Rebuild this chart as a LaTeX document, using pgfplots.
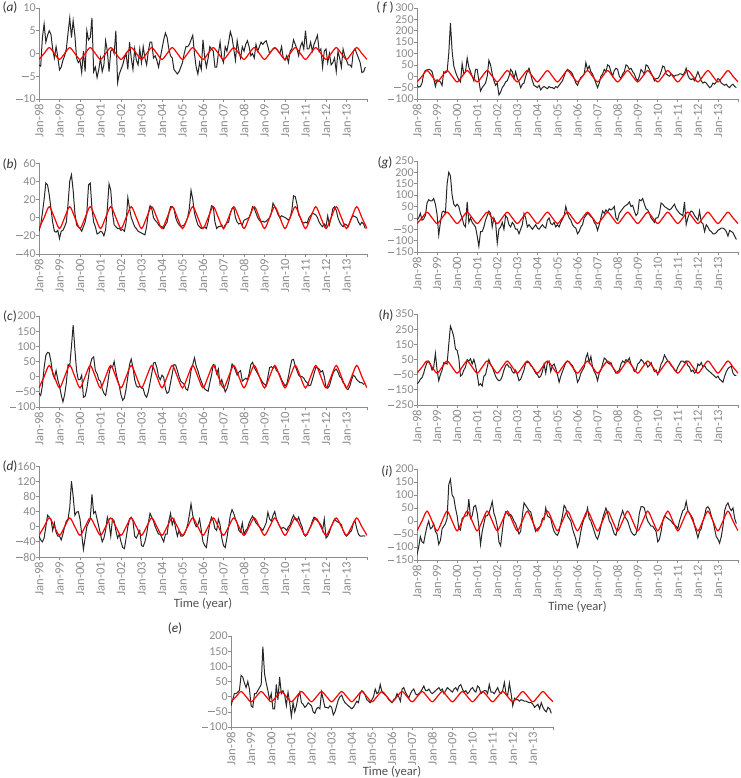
\documentclass[border=0pt]{standalone}
\usepackage{fontspec}
\setmainfont{Carlito}
\usepackage{pgfplots}
\usepackage{pgfplotstable}
\pgfplotsset{compat=1.18}
\definecolor{tickgray}{HTML}{8C8C8C}
\definecolor{axisgray}{HTML}{8C8C8C}
\definecolor{labelgray}{HTML}{505050}
% a slightly wider minus, as in the figure's tick labels
\newcommand\mn{\rule[2.7pt]{5pt}{0.55pt}\kern0.7pt}

% modelled seasonal cycle (red), quarterly points, one column per panel
\pgfplotstableread{
t a b c d e f g h i
0 -1.3 -12 -37 -23 -17 -25 -25 -40 -38
3 0 0 0 0 0 0 0 0 0
6 1.3 12 37 23 17 25 25 40 38
9 0 0 0 0 0 0 0 0 0
12 -1.3 -12 -37 -23 -17 -25 -25 -40 -38
15 0 0 0 0 0 0 0 0 0
18 1.3 12 37 23 17 25 25 40 38
21 0 0 0 0 0 0 0 0 0
24 -1.3 -12 -37 -23 -17 -25 -25 -40 -38
27 0 0 0 0 0 0 0 0 0
30 1.3 12 37 23 17 25 25 40 38
33 0 0 0 0 0 0 0 0 0
36 -1.3 -12 -37 -23 -17 -25 -25 -40 -38
39 0 0 0 0 0 0 0 0 0
42 1.3 12 37 23 17 25 25 40 38
45 0 0 0 0 0 0 0 0 0
48 -1.3 -12 -37 -23 -17 -25 -25 -40 -38
51 0 0 0 0 0 0 0 0 0
54 1.3 12 37 23 17 25 25 40 38
57 0 0 0 0 0 0 0 0 0
60 -1.3 -12 -37 -23 -17 -25 -25 -40 -38
63 0 0 0 0 0 0 0 0 0
66 1.3 12 37 23 17 25 25 40 38
69 0 0 0 0 0 0 0 0 0
72 -1.3 -12 -37 -23 -17 -25 -25 -40 -38
75 0 0 0 0 0 0 0 0 0
78 1.3 12 37 23 17 25 25 40 38
81 0 0 0 0 0 0 0 0 0
84 -1.3 -12 -37 -23 -17 -25 -25 -40 -38
87 0 0 0 0 0 0 0 0 0
90 1.3 12 37 23 17 25 25 40 38
93 0 0 0 0 0 0 0 0 0
96 -1.3 -12 -37 -23 -17 -25 -25 -40 -38
99 0 0 0 0 0 0 0 0 0
102 1.3 12 37 23 17 25 25 40 38
105 0 0 0 0 0 0 0 0 0
108 -1.3 -12 -37 -23 -17 -25 -25 -40 -38
111 0 0 0 0 0 0 0 0 0
114 1.3 12 37 23 17 25 25 40 38
117 0 0 0 0 0 0 0 0 0
120 -1.3 -12 -37 -23 -17 -25 -25 -40 -38
123 0 0 0 0 0 0 0 0 0
126 1.3 12 37 23 17 25 25 40 38
129 0 0 0 0 0 0 0 0 0
132 -1.3 -12 -37 -23 -17 -25 -25 -40 -38
135 0 0 0 0 0 0 0 0 0
138 1.3 12 37 23 17 25 25 40 38
141 0 0 0 0 0 0 0 0 0
144 -1.3 -12 -37 -23 -17 -25 -25 -40 -38
147 0 0 0 0 0 0 0 0 0
150 1.3 12 37 23 17 25 25 40 38
153 0 0 0 0 0 0 0 0 0
156 -1.3 -12 -37 -23 -17 -25 -25 -40 -38
159 0 0 0 0 0 0 0 0 0
162 1.3 12 37 23 17 25 25 40 38
165 0 0 0 0 0 0 0 0 0
168 -1.3 -12 -37 -23 -17 -25 -25 -40 -38
171 0 0 0 0 0 0 0 0 0
174 1.3 12 37 23 17 25 25 40 38
177 0 0 0 0 0 0 0 0 0
180 -1.3 -12 -37 -23 -17 -25 -25 -40 -38
183 0 0 0 0 0 0 0 0 0
186 1.3 12 37 23 17 25 25 40 38
189 0 0 0 0 0 0 0 0 0
192 -1.3 -12 -37 -23 -17 -25 -25 -40 -38
}\sine

% observed monthly anomalies (black), Jan-98 ... Dec-13, one year per line
\pgfplotstableread[row sep=\\]{y\\
-2.5\\-2.8\\3.5\\6.5\\2.5\\4.0\\5.0\\4.2\\1.0\\-1.0\\1.5\\-0.8\\
-3.6\\-3.0\\-1.5\\-0.5\\1.0\\4.5\\7.8\\3.5\\7.2\\4.0\\-1.0\\-2.0\\
-1.5\\-4.2\\0.5\\-4.0\\5.0\\3.0\\3.5\\7.8\\-4.0\\-3.0\\-5.3\\-3.5\\
-1.0\\-4.0\\-2.5\\2.8\\0.5\\-4.0\\0.5\\1.0\\0.0\\5.0\\-6.4\\-4.5\\
-3.5\\-2.5\\-1.0\\0.0\\-3.5\\2.5\\-1.0\\-3.5\\1.0\\-1.5\\-2.5\\1.0\\
-2.0\\1.5\\-1.0\\-2.5\\0.5\\2.5\\2.5\\-1.0\\-0.5\\-1.5\\-3.0\\-1.0\\
1.0\\3.0\\4.5\\3.5\\1.0\\-0.5\\-1.0\\-3.5\\-4.0\\-4.5\\-4.0\\-3.0\\
-2.0\\0.0\\1.5\\1.5\\2.0\\3.0\\4.0\\0.0\\-3.0\\-4.5\\-2.0\\-3.5\\
3.0\\-1.0\\-3.0\\-1.0\\1.5\\1.0\\0.5\\-3.0\\-3.0\\0.0\\2.5\\-1.0\\
-2.0\\1.5\\0.5\\2.5\\4.8\\3.5\\1.0\\-1.5\\2.8\\0.5\\-1.0\\1.5\\
0.5\\2.0\\2.8\\1.5\\-0.5\\0.0\\-1.0\\2.0\\0.5\\1.5\\2.5\\2.0\\
2.5\\2.8\\1.5\\0.0\\0.5\\1.0\\1.2\\1.0\\0.5\\0.0\\1.5\\-1.0\\
-1.5\\-0.5\\-2.0\\0.5\\1.0\\3.0\\2.0\\1.0\\-0.5\\1.5\\2.5\\1.0\\
5.0\\1.0\\1.0\\2.5\\0.5\\2.0\\3.0\\4.0\\0.5\\1.0\\-3.0\\0.5\\
1.0\\-2.0\\0.0\\-2.5\\-2.0\\-1.0\\-4.0\\0.5\\-1.0\\-3.0\\1.0\\-0.5\\
-1.5\\-2.5\\-2.5\\-3.0\\0.5\\1.0\\0.0\\-1.0\\-2.0\\-4.2\\-4.0\\-3.0\\
}\ta
\pgfplotstableread[row sep=\\]{y\\
-15\\-8\\5\\20\\38\\36\\25\\10\\-5\\-15\\-16\\-14\\
-23\\-15\\-14\\-10\\-5\\15\\40\\47\\30\\5\\-8\\-10\\
-12\\-15\\-10\\-5\\5\\36\\38\\10\\-5\\-10\\-18\\-17\\
-15\\-16\\-20\\-13\\10\\37\\30\\5\\-8\\-10\\-12\\-12\\
-14\\-13\\-15\\-5\\22\\10\\0\\-5\\-10\\-12\\-15\\-16\\
-17\\-18\\-19\\-10\\5\\13\\10\\0\\-3\\-5\\-8\\-10\\
-10\\-12\\-8\\-5\\5\\12\\12\\10\\0\\-5\\-8\\-10\\
-9\\-8\\-5\\0\\10\\30\\20\\5\\-2\\-8\\-10\\-12\\
-11\\-10\\-12\\-5\\5\\13\\12\\-5\\-12\\-10\\-10\\-8\\
-12\\-8\\-6\\-5\\5\\10\\11\\0\\-5\\-7\\-6\\-8\\
-3\\-2\\-1\\0\\5\\12\\10\\5\\0\\-3\\-5\\-4\\
-5\\-4\\-2\\0\\5\\16\\12\\8\\3\\0\\2\\1\\
0\\-1\\-3\\0\\8\\24\\23\\15\\3\\0\\-5\\-6\\
-5\\-6\\0\\2\\5\\4\\3\\0\\-5\\-8\\-10\\-7\\
-10\\2\\-8\\0\\10\\12\\8\\0\\-5\\-8\\-10\\-7\\
-8\\-10\\-5\\0\\2\\1\\0\\-5\\-8\\-5\\-7\\-12\\
}\tb
\pgfplotstableread[row sep=\\]{y\\
-55\\-62\\-30\\30\\70\\80\\78\\50\\10\\-5\\20\\-10\\
-30\\-60\\-83\\-60\\-20\\40\\35\\100\\170\\90\\20\\-10\\
-10\\5\\-68\\-65\\-40\\0\\40\\60\\65\\20\\10\\-10\\
-15\\-40\\-55\\-62\\-30\\10\\35\\30\\50\\15\\-10\\-30\\
-60\\-78\\-70\\-40\\0\\40\\58\\30\\-10\\-30\\-35\\-32\\
-35\\-40\\-60\\-68\\-50\\-20\\10\\45\\47\\30\\0\\-10\\
5\\-2\\-40\\-55\\-50\\-20\\10\\40\\38\\20\\0\\-15\\
-20\\-25\\-40\\-45\\-20\\20\\40\\62\\35\\20\\0\\-15\\
-30\\-40\\-45\\-48\\-20\\5\\40\\38\\10\\25\\-25\\-10\\
-30\\-50\\-40\\-20\\10\\42\\35\\20\\5\\15\\20\\-15\\
-10\\-5\\-10\\10\\40\\47\\30\\20\\10\\0\\-10\\-20\\
-25\\-30\\0\\30\\33\\28\\35\\20\\15\\5\\-10\\-20\\
-30\\-25\\0\\30\\55\\57\\35\\20\\5\\0\\0\\-5\\
-15\\-20\\-30\\-28\\-10\\10\\30\\30\\25\\15\\20\\0\\
-35\\-38\\-30\\-10\\10\\20\\25\\15\\0\\-5\\-20\\-25\\
-40\\-42\\-30\\-10\\5\\0\\-10\\-15\\-20\\-20\\-25\\-22\\
}\tc
\pgfplotstableread[row sep=\\]{y\\
-25\\-35\\-40\\-30\\0\\30\\25\\20\\-10\\10\\-15\\-25\\
-25\\-35\\-20\\0\\15\\20\\50\\120\\80\\30\\38\\40\\
20\\-20\\-60\\-30\\0\\10\\20\\85\\35\\40\\20\\0\\
-20\\-40\\-30\\-10\\25\\10\\-25\\20\\15\\-10\\-30\\-20\\
-40\\-55\\-58\\-30\\0\\20\\25\\15\\-25\\-30\\-20\\-10\\
-50\\-52\\-40\\-20\\10\\35\\25\\15\\0\\-10\\-20\\-20\\
-30\\-40\\-20\\-20\\15\\35\\5\\20\\-5\\-25\\-10\\-25\\
-25\\-20\\-10\\5\\30\\60\\30\\10\\0\\5\\20\\-10\\
-40\\-50\\-55\\-20\\10\\25\\15\\-5\\-10\\20\\5\\-30\\
-50\\-55\\-30\\0\\30\\45\\35\\20\\10\\-10\\-15\\10\\
-20\\-10\\-5\\10\\20\\28\\20\\10\\5\\0\\-5\\-10\\
0\\10\\38\\20\\15\\30\\40\\20\\10\\0\\-5\\-2\\
-5\\-10\\0\\5\\20\\30\\20\\15\\25\\10\\0\\-20\\
-25\\-20\\-10\\0\\15\\25\\20\\15\\10\\5\\-10\\20\\
-30\\-25\\-15\\0\\10\\20\\15\\12\\10\\5\\-10\\-20\\
-25\\-20\\-15\\-10\\10\\15\\-5\\-20\\-25\\-25\\-24\\-25\\
}\td
\pgfplotstableread[row sep=\\]{y\\
-30\\-10\\10\\10\\15\\20\\70\\65\\45\\30\\50\\25\\
-30\\-35\\10\\10\\20\\30\\40\\165\\75\\45\\20\\-10\\
10\\-40\\-40\\40\\-10\\65\\10\\20\\5\\-30\\15\\-20\\
-65\\-20\\-50\\-30\\0\\15\\-20\\-25\\-35\\-30\\-20\\-25\\
-30\\-50\\-55\\-40\\-35\\-40\\15\\-10\\-35\\-35\\-38\\-30\\
-35\\-60\\-50\\-30\\-10\\0\\5\\-10\\-20\\-25\\-30\\-35\\
-40\\-35\\-25\\-15\\-20\\10\\20\\15\\5\\-10\\-15\\-20\\
-10\\0\\25\\10\\15\\40\\15\\10\\5\\0\\-10\\-15\\
-20\\-10\\-5\\10\\0\\-15\\25\\30\\15\\5\\-5\\10\\
20\\25\\10\\5\\10\\15\\25\\35\\20\\20\\25\\15\\
10\\15\\20\\25\\30\\20\\25\\10\\20\\30\\25\\20\\
15\\25\\30\\20\\35\\40\\25\\15\\20\\10\\15\\25\\
30\\20\\15\\35\\30\\10\\15\\20\\20\\10\\40\\15\\
15\\10\\20\\30\\15\\10\\20\\47\\10\\5\\45\\10\\
-30\\-5\\-10\\-10\\-15\\-10\\-12\\-15\\-15\\-18\\-20\\-20\\
-25\\-35\\-30\\-25\\-40\\-20\\-35\\-45\\-50\\-35\\-40\\-55\\
}\te
\pgfplotstableread[row sep=\\]{y\\
-40\\-48\\-45\\-30\\10\\25\\28\\30\\28\\20\\-10\\-45\\
-15\\-20\\-25\\-40\\20\\15\\20\\100\\235\\110\\45\\20\\
0\\-15\\-25\\55\\10\\20\\80\\40\\20\\0\\-20\\30\\
30\\-20\\-65\\-50\\-40\\-30\\0\\70\\50\\10\\-20\\-40\\
-30\\-82\\-70\\-50\\-40\\-25\\-20\\0\\30\\20\\-10\\20\\
-10\\-25\\-50\\-35\\-30\\0\\20\\35\\10\\-20\\-40\\-45\\
-50\\-40\\-60\\-50\\-45\\-50\\-55\\-45\\-50\\-50\\-55\\-45\\
-50\\-40\\-30\\-20\\0\\20\\30\\25\\20\\10\\-10\\-30\\
-40\\-20\\-5\\0\\10\\60\\30\\45\\20\\10\\-10\\-30\\
-50\\-30\\0\\10\\30\\20\\50\\45\\20\\0\\25\\35\\
30\\0\\-10\\10\\20\\50\\45\\30\\35\\20\\10\\-10\\
-20\\0\\30\\20\\10\\50\\45\\30\\15\\0\\-20\\-10\\
-10\\0\\20\\45\\40\\10\\5\\0\\10\\5\\0\\5\\
5\\10\\10\\5\\15\\35\\5\\-10\\-15\\-10\\-20\\0\\
20\\0\\-20\\-30\\-25\\-30\\-40\\-50\\-45\\-30\\-35\\-25\\
-10\\-15\\-30\\-35\\-40\\-35\\-45\\-50\\-40\\-35\\-45\\-50\\
}\tf
\pgfplotstableread[row sep=\\]{y\\
-10\\0\\20\\-10\\-5\\10\\65\\80\\75\\75\\85\\60\\
15\\-75\\-20\\25\\30\\20\\150\\200\\185\\100\\60\\50\\
60\\50\\20\\0\\-30\\-40\\70\\-20\\0\\-20\\-30\\-40\\
-80\\-125\\-60\\-60\\-40\\-10\\10\\30\\20\\-40\\0\\-20\\
-110\\-50\\-40\\-20\\-50\\10\\0\\-30\\-40\\-20\\-30\\-50\\
-50\\-70\\-50\\-30\\20\\0\\-40\\-30\\-40\\-50\\-40\\-30\\
-45\\-50\\-40\\-30\\-40\\-45\\-10\\0\\-25\\-30\\-20\\-40\\
-30\\-40\\-20\\-5\\10\\50\\20\\0\\-10\\-30\\-40\\-45\\
-70\\-60\\-40\\-30\\0\\10\\20\\15\\5\\0\\-20\\-30\\
-55\\-30\\0\\30\\20\\35\\25\\40\\35\\40\\50\\0\\
-10\\20\\30\\40\\50\\55\\60\\70\\50\\55\\30\\10\\
20\\80\\75\\85\\60\\40\\35\\20\\0\\-10\\-20\\0\\
0\\20\\65\\60\\50\\45\\40\\35\\40\\50\\60\\40\\
30\\20\\15\\10\\70\\-30\\0\\20\\30\\25\\10\\0\\
-10\\30\\-20\\-25\\-60\\-30\\-40\\-55\\-60\\-70\\-70\\-65\\
-55\\-50\\-45\\-45\\-50\\-60\\-80\\-55\\-60\\-65\\-80\\-95\\
}\tg
\pgfplotstableread[row sep=\\]{y\\
-110\\-100\\-80\\-70\\-40\\0\\30\\40\\20\\-20\\0\\90\\
-20\\-90\\-50\\-20\\30\\25\\20\\150\\270\\240\\200\\120\\
110\\60\\-60\\-50\\-20\\0\\50\\40\\55\\20\\50\\10\\
-50\\-120\\-110\\-125\\-60\\-50\\0\\50\\20\\0\\-30\\-60\\
-80\\-90\\-85\\-60\\-20\\10\\20\\0\\0\\-30\\-40\\-20\\
-50\\-90\\-80\\-50\\-20\\30\\30\\30\\10\\0\\-20\\-40\\
-50\\-70\\-60\\-30\\20\\-40\\30\\40\\-30\\10\\20\\-10\\
-50\\-100\\-60\\-30\\0\\30\\40\\35\\20\\10\\-20\\-40\\
-100\\-80\\-40\\-20\\0\\60\\90\\30\\70\\0\\-30\\-50\\
-90\\-40\\-20\\20\\60\\50\\30\\20\\30\\0\\-20\\-40\\
-30\\-20\\20\\40\\30\\50\\40\\60\\20\\0\\-30\\-20\\
20\\30\\50\\40\\20\\30\\0\\10\\30\\0\\-30\\-20\\
-50\\-20\\20\\40\\80\\60\\40\\30\\10\\0\\-20\\-30\\
0\\20\\40\\40\\30\\40\\10\\0\\-30\\-20\\-40\\-30\\
20\\10\\30\\0\\10\\-10\\-20\\-30\\-40\\-50\\-60\\-70\\
-60\\-80\\-90\\-100\\-60\\-30\\-10\\0\\5\\-40\\-55\\-55\\
}\th
\pgfplotstableread[row sep=\\]{y\\
-130\\-100\\-60\\-80\\-85\\-50\\-20\\0\\-30\\-25\\-10\\-40\\
-50\\-90\\-75\\-30\\-20\\-10\\10\\140\\160\\100\\90\\50\\
20\\-30\\-35\\10\\15\\20\\20\\85\\10\\20\\55\\60\\
30\\-20\\-90\\-40\\-10\\20\\20\\30\\50\\75\\30\\10\\
-20\\-80\\-95\\-40\\10\\35\\30\\20\\25\\15\\0\\-10\\
-30\\-50\\-40\\20\\70\\60\\50\\40\\35\\10\\-20\\-40\\
-30\\-25\\-20\\10\\5\\50\\20\\15\\10\\-20\\-40\\-50\\
-55\\-40\\-10\\20\\60\\50\\20\\10\\0\\-30\\-50\\-70\\
-100\\-80\\-40\\-10\\10\\20\\50\\10\\0\\-20\\-40\\-60\\
-70\\-50\\-20\\10\\30\\50\\30\\0\\-10\\-30\\-50\\-55\\
-30\\0\\20\\40\\20\\10\\0\\-20\\-40\\-50\\-55\\-50\\
-20\\30\\55\\55\\50\\20\\0\\-10\\-20\\-20\\-30\\-40\\
-80\\-70\\-40\\0\\20\\15\\10\\5\\0\\-10\\-15\\-20\\
-30\\0\\20\\40\\45\\75\\40\\30\\20\\10\\-20\\-40\\
-65\\-40\\-30\\0\\20\\50\\55\\45\\20\\0\\-30\\-60\\
-70\\-85\\-60\\-20\\40\\60\\70\\50\\40\\50\\10\\-10\\
}\ti

\pgfplotsset{
  panel/.style={
    scale only axis,
    height=68.25pt,
    xmin=0, xmax=192,
    axis x line=bottom, axis y line=left,
    axis line style={draw=axisgray, line width=0.6pt, -},
    xtick={0,12,...,192},
    xticklabels={Jan-98,Jan-99,Jan-00,Jan-01,Jan-02,Jan-03,Jan-04,Jan-05,Jan-06,Jan-07,Jan-08,Jan-09,Jan-10,Jan-11,Jan-12,Jan-13,{}},
    xticklabel style={rotate=90, anchor=east, inner xsep=0.8pt, font=\fontsize{9.5}{11}\selectfont, text=tickgray},
    yticklabel style={font=\fontsize{9}{10}\selectfont, text=tickgray, xshift=3.5pt},
    tick align=outside,
    major tick length=2.5pt,
    tick style={draw=axisgray, line width=0.5pt},
    xlabel style={font=\fontsize{9.5}{11}\selectfont, text=labelgray,
      at={(axis description cs:0.5,0)}, anchor=center, yshift=-35pt},
    anchor=south west,
  },
  leftcol/.style={panel, width=246pt},
  rightcol/.style={panel, width=240.75pt},
  obs/.style={draw=black!85, line width=0.75pt},
  model/.style={draw=red, line width=0.9pt, smooth},
}

\begin{document}
\begin{tikzpicture}
% (a)
\begin{axis}[leftcol, at={(29.25pt,509.25pt)}, ymin=-10, ymax=10,
  ytick={-10,-5,0,5,10}, yticklabels={\mn10,\mn5,0,5,10}]
\addplot[obs] table[x expr=\coordindex, y=y] {\ta};
\addplot[model] table[x=t, y=a] {\sine};
\end{axis}
% (b)
\begin{axis}[leftcol, at={(29.25pt,393pt)}, ymin=-40, ymax=60,
  ytick={-40,-20,0,20,40,60}, yticklabels={\mn40,\mn20,0,20,40,60}]
\addplot[obs] table[x expr=\coordindex, y=y] {\tb};
\addplot[model] table[x=t, y=b] {\sine};
\end{axis}
% (c)
\begin{axis}[leftcol, at={(29.25pt,278.25pt)}, ymin=-100, ymax=200,
  ytick={-100,-50,0,50,100,150,200}, yticklabels={\mn100,\mn50,0,50,100,150,200}]
\addplot[obs] table[x expr=\coordindex, y=y] {\tc};
\addplot[model] table[x=t, y=c] {\sine};
\end{axis}
% (d)
\begin{axis}[leftcol, at={(29.25pt,165.75pt)}, ymin=-80, ymax=160,
  ytick={-80,-40,0,40,80,120,160}, yticklabels={\mn80,\mn40,0,40,80,120,160},
  xlabel={Time (year)}]
\addplot[obs] table[x expr=\coordindex, y=y] {\td};
\addplot[model] table[x=t, y=d] {\sine};
\end{axis}
% (e)
\begin{axis}[panel, width=241.5pt, at={(173.25pt,38.25pt)}, ymin=-100, ymax=200,
  ytick={-100,-50,0,50,100,150,200}, yticklabels={\mn100,\mn50,0,50,100,150,200},
  xlabel={Time (year)}, xlabel style={yshift=1.5pt}]
\addplot[obs] table[x expr=\coordindex, y=y] {\te};
\addplot[model] table[x=t, y=e] {\sine};
\end{axis}
% (f)
\begin{axis}[rightcol, at={(312.75pt,509.25pt)}, ymin=-100, ymax=300,
  ytick={-100,-50,0,50,100,150,200,250,300}, yticklabels={\mn100,\mn50,0,50,100,150,200,250,300}]
\addplot[obs] table[x expr=\coordindex, y=y] {\tf};
\addplot[model] table[x=t, y=f] {\sine};
\end{axis}
% (g)
\begin{axis}[rightcol, at={(312.75pt,394.5pt)}, ymin=-150, ymax=250,
  ytick={-150,-100,-50,0,50,100,150,200,250}, yticklabels={\mn150,\mn100,\mn50,0,50,100,150,200,250}]
\addplot[obs] table[x expr=\coordindex, y=y] {\tg};
\addplot[model] table[x=t, y=g] {\sine};
\end{axis}
% (h)
\begin{axis}[rightcol, at={(312.75pt,279.75pt)}, ymin=-250, ymax=350,
  ytick={-250,-150,-50,50,150,250,350}, yticklabels={\mn250,\mn150,\mn50,50,150,250,350}]
\addplot[obs] table[x expr=\coordindex, y=y] {\th};
\addplot[model] table[x=t, y=h] {\sine};
\end{axis}
% (i)
\begin{axis}[rightcol, at={(312.75pt,163.5pt)}, ymin=-150, ymax=200,
  ytick={-150,-100,-50,0,50,100,150,200}, yticklabels={\mn150,\mn100,\mn50,0,50,100,150,200},
  xlabel={Time (year)}]
\addplot[obs] table[x expr=\coordindex, y=y] {\ti};
\addplot[model] table[x=t, y=i] {\sine};
\end{axis}

\tikzset{plab/.style={font=\fontsize{10}{12}\selectfont, text=black!80}}
\node[plab] at (7.5pt,577.5pt) {(\textit{a})};
\node[plab] at (7.5pt,459.75pt) {(\textit{b})};
\node[plab] at (7.5pt,345.75pt) {(\textit{c})};
\node[plab] at (7.5pt,233.25pt) {(\textit{d})};
\node[plab] at (131.25pt,111.75pt) {(\textit{e})};
\node[plab] at (288.75pt,577.5pt) {(\,\textit{f}\,)};
\node[plab] at (288.75pt,461.25pt) {(\textit{g})};
\node[plab] at (289.5pt,346.5pt) {(\textit{h})};
\node[plab] at (290.25pt,229.5pt) {(\textit{i})};

\pgfresetboundingbox
\path[use as bounding box] (0,0) rectangle (555pt,583.5pt);
\end{tikzpicture}
\end{document}
